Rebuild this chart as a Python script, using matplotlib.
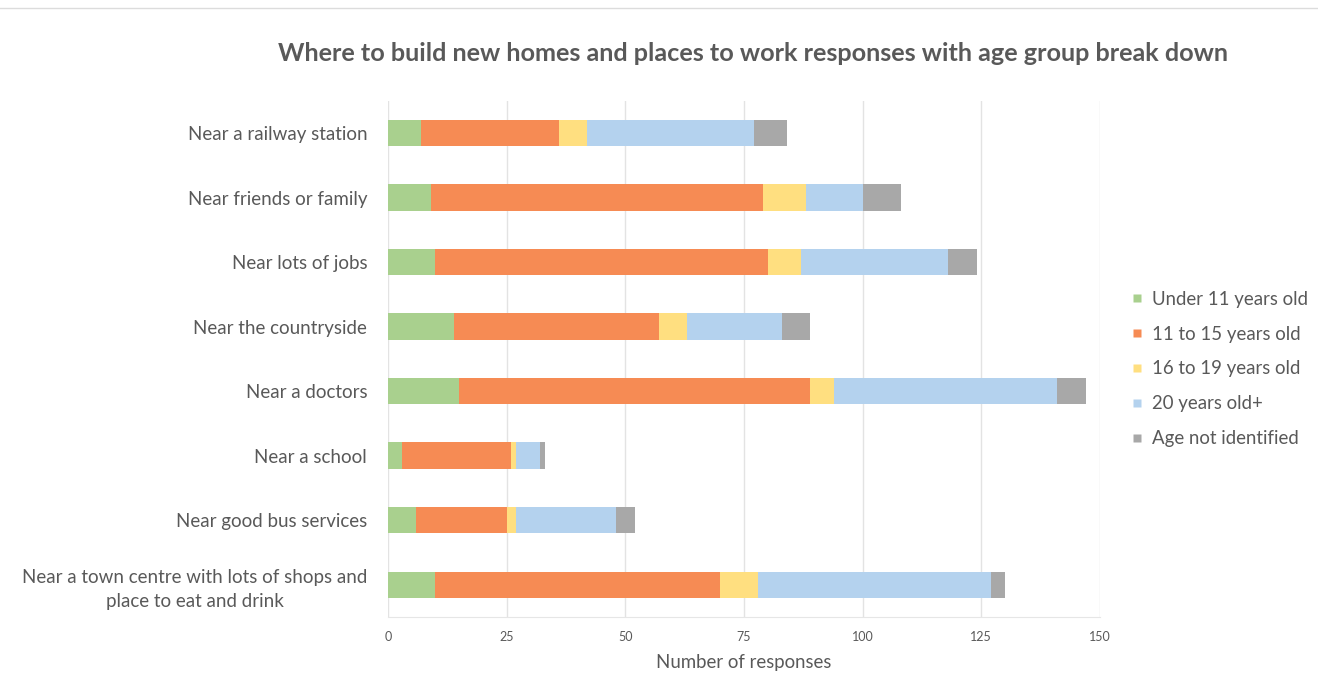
import matplotlib.pyplot as plt
import numpy as np
from matplotlib.lines import Line2D

categories = [
    "Near a railway station",
    "Near friends or family",
    "Near lots of jobs",
    "Near the countryside",
    "Near a doctors",
    "Near a school",
    "Near good bus services",
    "Near a town centre with lots of shops and\nplace to eat and drink",
]
series_names = ["Under 11 years old", "11 to 15 years old", "16 to 19 years old",
                "20 years old+", "Age not identified"]
under_11 = [7, 9, 10, 14, 15, 3, 6, 10]
age_11_15 = [29, 70, 70, 43, 74, 23, 19, 60]
age_16_19 = [6, 9, 7, 6, 5, 1, 2, 8]
age_20_plus = [35, 12, 31, 20, 47, 5, 21, 49]
not_identified = [7, 8, 6, 6, 6, 1, 4, 3]
x_ticks = [0, 25, 50, 75, 100, 125, 150]

colours = ["#a9d08e", "#f68b54", "#ffdf80", "#b4d2ee", "#a8a8a8"]
text_col = "#595959"

plt.rcParams['font.family'] = ['Lato', 'DejaVu Sans']

fig = plt.figure(figsize=(13.18, 6.73), dpi=100)
ax = fig.add_axes([0.2944, 0.0832, 0.5402, 0.767])

# stacked horizontal bars, one segment per age group
y = np.arange(len(categories))
left = np.zeros(len(categories))
for name, vals, col in zip(series_names,
                           [under_11, age_11_15, age_16_19, age_20_plus, not_identified],
                           colours):
    ax.barh(y, vals, left=left, height=0.41, color=col, label=name, zorder=3)
    left += np.array(vals)

ax.set_ylim(len(categories) - 0.5, -0.5)
ax.set_xlim(0, 150)
ax.set_yticks(y)
ax.set_yticklabels(categories, fontsize=13.5, color=text_col,
                   multialignment='center', linespacing=1.45)
ax.set_xticks(x_ticks)
ax.set_xticklabels([str(t) for t in x_ticks], fontsize=9, color=text_col)
ax.tick_params(axis='both', length=0)
ax.tick_params(axis='y', pad=15)
ax.tick_params(axis='x', pad=10)
ax.xaxis.grid(True, color="#e3e3e3", linewidth=1, zorder=0)
for side in ['top', 'right', 'left']:
    ax.spines[side].set_visible(False)
ax.spines['bottom'].set_color("#e6e6e6")
ax.set_xlabel("Number of responses", fontsize=13.4, color=text_col, labelpad=8)

fig.text(0.571, 0.92, "Where to build new homes and places to work responses with age group break down",
         ha='center', va='center', fontsize=18.2, fontweight='bold', color=text_col)

handles = [Line2D([0], [0], marker='s', linestyle='', markersize=6,
                  markerfacecolor=c, markeredgecolor='none') for c in colours]
fig.legend(handles, series_names, loc='upper left', bbox_to_anchor=(0.846, 0.593),
           frameon=False, fontsize=13.4, labelcolor=text_col, handlelength=0.6,
           handletextpad=0.5, labelspacing=0.96)

fig.add_artist(Line2D([0, 1], [0.988, 0.988], transform=fig.transFigure,
                      color="#dcdcdc", linewidth=1))

fig.savefig("out.png", dpi=100, facecolor="white")
